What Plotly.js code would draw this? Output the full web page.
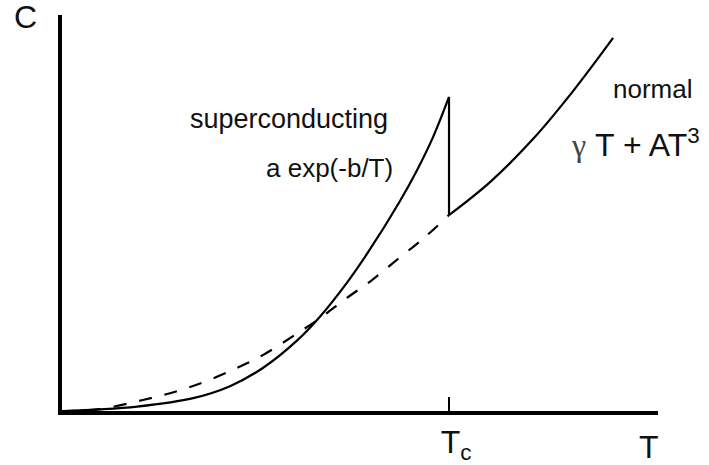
<!DOCTYPE html>
<html>
<head>
<meta charset="utf-8">
<script src="https://cdn.plot.ly/plotly-3.0.1.min.js"></script>
<style>
  html, body { margin: 0; padding: 0; background: #fff; }
  #chart { width: 709px; height: 465px; }
</style>
</head>
<body>
<div id="chart"></div>
<script>
// Specific heat C(T) in reduced units (T / Tc, C / C peak)
const scT = [0, 0.098, 0.194, 0.339, 0.434, 0.519, 0.607, 0.667, 0.736, 0.788, 0.873, 0.917, 0.959, 1.0];
const scC = [0, 0.005, 0.014, 0.041, 0.079, 0.137, 0.224, 0.301, 0.408, 0.500, 0.668, 0.766, 0.873, 1.0];

// Jump at Tc
const jumpT = [1.0, 1.0];
const jumpC = [1.0, 0.624];

// Normal state above Tc
const normT = [1.0, 1.106, 1.217, 1.320, 1.424];
const normC = [0.624, 0.729, 0.866, 1.018, 1.188];

// Normal state extrapolated below Tc
const extT = [0, 0.098, 0.209, 0.300, 0.375, 0.452, 0.519, 0.594, 0.667, 0.736, 0.801, 0.868, 0.938, 1.0];
const extC = [0, 0.006, 0.035, 0.064, 0.096, 0.137, 0.178, 0.236, 0.296, 0.360, 0.417, 0.484, 0.554, 0.624];

const tickVals = [1.0];
const tickText = ['T<sub>c</sub>'];

const FONT = 'Liberation Sans, Arial, sans-serif';
const INK = '#111';

const lineStyle = { color: '#000', width: 2.2 };

const traces = [
  { x: extT, y: extC, mode: 'lines', line: { color: '#000', width: 2.2, dash: '13px,13px', shape: 'spline', smoothing: 1 }, hoverinfo: 'skip' },
  { x: scT, y: scC, mode: 'lines', line: Object.assign({ shape: 'spline', smoothing: 1 }, lineStyle), hoverinfo: 'skip' },
  { x: jumpT, y: jumpC, mode: 'lines', line: lineStyle, hoverinfo: 'skip' },
  { x: normT, y: normC, mode: 'lines', line: Object.assign({ shape: 'spline', smoothing: 1 }, lineStyle), hoverinfo: 'skip' }
];

const layout = {
  width: 709,
  height: 465,
  margin: { l: 62, r: 51, t: 15, b: 54 },
  paper_bgcolor: '#fff',
  plot_bgcolor: '#fff',
  showlegend: false,
  font: { family: FONT, color: INK, size: 26 },
  xaxis: {
    range: [0, 1.54],
    showgrid: false,
    zeroline: false,
    showline: true,
    linecolor: '#000',
    linewidth: 4,
    tickmode: 'array',
    tickvals: tickVals,
    ticktext: tickText,
    ticks: 'inside',
    ticklen: 14,
    tickwidth: 2,
    tickcolor: '#000',
    ticklabelshift: 7,
    tickfont: { family: FONT, size: 32, color: INK },
    fixedrange: true
  },
  yaxis: {
    range: [0, 1.261],
    showgrid: false,
    zeroline: false,
    showline: true,
    linecolor: '#000',
    linewidth: 4,
    showticklabels: false,
    ticks: '',
    fixedrange: true
  },
  annotations: [
    { xref: 'paper', yref: 'paper', x: -0.062, y: 0.995, text: 'C', showarrow: false, borderpad: 0,
      font: { family: FONT, size: 32, color: INK }, xanchor: 'center', yanchor: 'middle' },
    { xref: 'paper', yref: 'paper', x: 0.985, y: -0.091, text: 'T', showarrow: false, borderpad: 0,
      font: { family: FONT, size: 32, color: INK }, xanchor: 'center', yanchor: 'middle' },
    { xref: 'x', yref: 'y', x: 0.587, y: 0.93, text: 'superconducting', showarrow: false,
      font: { family: FONT, size: 27, color: INK }, xanchor: 'center', yanchor: 'middle' },
    { xref: 'x', yref: 'y', x: 0.690, y: 0.775, text: 'a exp(-b/T)', showarrow: false,
      font: { family: FONT, size: 26, color: INK }, xanchor: 'center', yanchor: 'middle' },
    { xref: 'x', yref: 'y', x: 1.527, y: 1.025, text: 'normal', showarrow: false,
      font: { family: FONT, size: 26, color: INK }, xanchor: 'center', yanchor: 'middle' },
    { xref: 'x', yref: 'y', x: 1.483, y: 0.855,
      text: '<span style="font-family:Liberation Serif;color:#444;">γ</span> T + AT<sup>3</sup>',
      showarrow: false,
      font: { family: FONT, size: 32, color: INK }, xanchor: 'center', yanchor: 'middle' }
  ]
};

Plotly.newPlot('chart', traces, layout, { staticPlot: true, displayModeBar: false });
</script>
</body>
</html>
